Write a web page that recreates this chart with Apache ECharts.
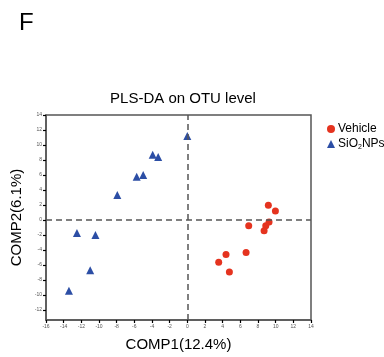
<!DOCTYPE html>
<html>
<head>
<meta charset="utf-8">
<script src="https://cdn.jsdelivr.net/npm/echarts@6/dist/echarts.min.js"></script>
</head>
<body style="margin:0">
<div id="plsChart" style="width:384px; height:357px;"></div>
<script>
// 数据
var vehicleX = [9.17, 9.97, 6.95, 8.88, 9.25, 8.69, 6.65, 4.38, 3.55, 4.76];
var vehicleY = [1.95, 1.2, -0.78, -0.78, -0.26, -1.43, -4.34, -4.6, -5.64, -6.94];
var sioX = [0, -3.92, -3.3, -5.73, -5.0, -7.93, -12.5, -10.4, -11.0, -13.4];
var sioY = [11.2, 8.7, 8.4, 5.76, 5.98, 3.33, -1.74, -2.0, -6.7, -9.45];
var yTicks = [-12, -10, -8, -6, -4, -2, 0, 2, 4, 6, 8, 10, 12, 14];

function toPairs(xs, ys) {
	var arr = [];
	for (var i = 0; i < xs.length; i++) {
		arr.push([xs[i], ys[i]]);
	}
	return arr;
}

var axisLineStyle = { color: '#555', width: 1.5 };
var tickLabel = { fontSize: 5, color: '#555', fontFamily: 'Liberation Sans', margin: 4 };

var myChart = echarts.init(document.getElementById('plsChart'));
myChart.setOption({
	animation: false,
	title: [
		{ text: 'F', left: 14, top: 6, textStyle: { fontSize: 24, fontWeight: 'normal', color: '#000', fontFamily: 'Liberation Sans' } },
		{ text: 'PLS-DA on OTU level', left: 178, textAlign: 'center', top: 86, textStyle: { fontSize: 15, fontWeight: 'normal', color: '#000', fontFamily: 'Liberation Sans' } }
	],
	legend: {
		orient: 'vertical',
		left: 322,
		top: 118,
		itemWidth: 8,
		itemHeight: 8,
		itemGap: 3,
		textStyle: {
			fontSize: 12,
			color: '#000',
			fontFamily: 'Liberation Sans',
			padding: [0, 0, 0, -2],
			rich: {
				a: { fontSize: 12, fontFamily: 'Liberation Sans', color: '#000' },
				s: { fontSize: 7, fontFamily: 'Liberation Sans', color: '#000', verticalAlign: 'bottom', padding: [6, 0, 0, 0] }
			}
		},
		formatter: function(name) {
			if (name == 'SiO2NPs') return '{a|SiO}{s|2}{a|NPs}';
			return name;
		},
		data: [
			{ name: 'Vehicle', icon: 'circle' },
			{ name: 'SiO2NPs', icon: 'triangle' }
		]
	},
	grid: { left: 46, right: 73, top: 115, bottom: 32, show: true, borderColor: '#555', borderWidth: 1.5 },
	xAxis: {
		type: 'value',
		min: -16, max: 14, interval: 2,
		name: 'COMP1(12.4%)',
		nameLocation: 'middle',
		nameGap: 17,
		nameTextStyle: { fontSize: 15, color: '#000', fontFamily: 'Liberation Sans' },
		splitLine: { show: false },
		axisLine: { show: true, onZero: false, lineStyle: axisLineStyle },
		axisTick: { show: true, inside: false, length: 3, lineStyle: { color: '#000', width: 1.2 } },
		axisLabel: tickLabel
	},
	yAxis: {
		type: 'value',
		min: -13.35, max: 14,
		name: 'COMP2(6.1%)',
		nameLocation: 'middle',
		nameGap: 22,
		nameTextStyle: { fontSize: 15, color: '#000', fontFamily: 'Liberation Sans' },
		splitLine: { show: false },
		axisLine: { show: true, onZero: false, lineStyle: axisLineStyle },
		axisTick: { show: true, inside: false, length: 3, customValues: yTicks, lineStyle: { color: '#000', width: 1.2 } },
		axisLabel: Object.assign({ customValues: yTicks }, tickLabel)
	},
	series: [
		{
			name: 'Vehicle',
			type: 'scatter',
			symbol: 'circle',
			symbolSize: 7,
			itemStyle: { color: '#e5331f', opacity: 1 },
			data: toPairs(vehicleX, vehicleY),
			markLine: {
				silent: true,
				symbol: 'none',
				label: { show: false },
				lineStyle: { color: '#555', type: [6, 4], width: 1.5 },
				data: [{ xAxis: 0 }, { yAxis: 0 }]
			}
		},
		{
			name: 'SiO2NPs',
			type: 'scatter',
			symbol: 'triangle',
			symbolSize: 8,
			itemStyle: { color: '#2c4ea5', opacity: 1 },
			data: toPairs(sioX, sioY)
		}
	]
});
</script>
</body>
</html>
